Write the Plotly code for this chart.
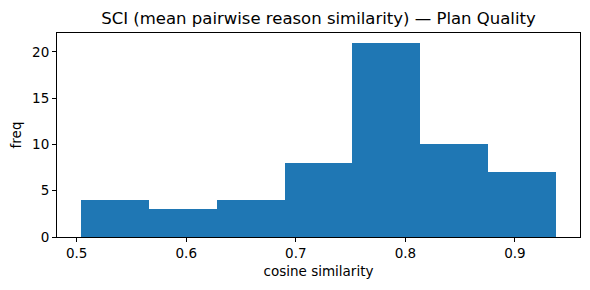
import plotly.graph_objects as go

bin_edges = [0.5037, 0.5657, 0.6277, 0.6897, 0.7517, 0.8137, 0.8757, 0.9377]
counts = [4, 3, 4, 8, 21, 10, 7]
x_ticks = [0.5, 0.6, 0.7, 0.8, 0.9]
y_ticks = [0, 5, 10, 15, 20]

centers = [(a + b) / 2 for a, b in zip(bin_edges[:-1], bin_edges[1:])]
widths = [b - a for a, b in zip(bin_edges[:-1], bin_edges[1:])]

fig = go.Figure(go.Bar(x=centers, y=counts, width=widths,
                       marker=dict(color="#1f77b4", line=dict(width=0))))

# page body has an 8px margin; size the figure to fit the 590x290 window
W, H = 582, 282
L, R, T, B = 49, 10, 25, 53

font = dict(family="DejaVu Sans", size=13.5, color="black")
axis_common = dict(showline=True, linecolor="black", linewidth=1, mirror=True,
                   ticks="outside", ticklen=4, tickcolor="black", showgrid=False,
                   zeroline=False, tickfont=font, automargin=False)
span = bin_edges[-1] - bin_edges[0]
fig.update_layout(
    width=W, height=H,
    margin=dict(l=L, r=R, t=T, b=B, autoexpand=False),
    plot_bgcolor="white", paper_bgcolor="white",
    bargap=0, showlegend=False,
    title=dict(text="SCI (mean pairwise reason similarity) — Plan Quality",
               font=dict(family="DejaVu Sans", size=16.5, color="black"),
               xref="container", x=(L + (W - L - R) / 2) / W, xanchor="center",
               yref="container", y=1 - 10 / H, yanchor="middle"),
    xaxis=dict(range=[bin_edges[0] - 0.05 * span, bin_edges[-1] + 0.05 * span],
               tickvals=x_ticks, ticktext=[f"{v:.1f}" for v in x_ticks],
               title=dict(text="cosine similarity", font=font, standoff=6), **axis_common),
    yaxis=dict(range=[0, max(counts) * 1.05], tickvals=y_ticks,
               title=dict(text="freq", font=font, standoff=8), **axis_common),
)
fig.write_html("out.html")
